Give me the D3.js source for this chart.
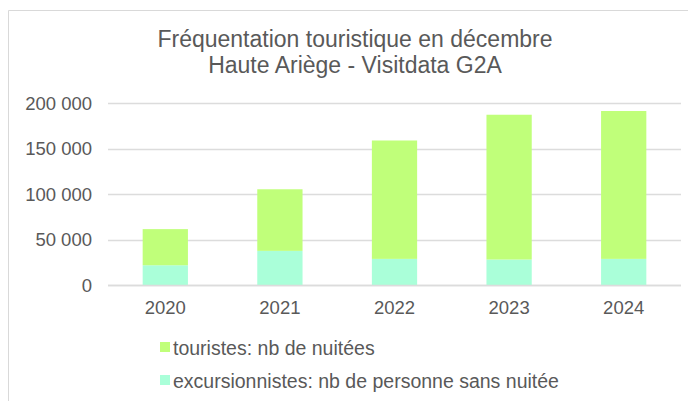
<!DOCTYPE html>
<html>
<head>
<meta charset="utf-8">
<script src="https://cdn.jsdelivr.net/npm/d3@7"></script>
<style>
  body { margin: 0; background: #fff; }
  svg text { font-family: "Liberation Sans", Arial, sans-serif; fill: #595959; }
</style>
</head>
<body>
<div id="chart"></div>
<script>
"use strict";

// data
const years = ["2020", "2021", "2022", "2023", "2024"];
const excursionnistes = [21700, 37500, 28700, 28000, 28700];
const touristes = [39700, 67700, 130100, 159100, 162500];
const yTicks = [0, 50000, 100000, 150000, 200000];
const titleLines = ["Fréquentation touristique en décembre", "Haute Ariège - Visitdata G2A"];
const seriesNames = ["touristes: nb de nuitées", "excursionnistes: nb de personne sans nuitée"];
const seriesColors = ["#c0ff7a", "#aaffd9"];

const w = 688, h = 401;
const margins = { top: 103, right: 7, bottom: 116, left: 108 };
const width = w - margins.left - margins.right;
const height = h - margins.top - margins.bottom;

const svg = d3.select("#chart").append("svg")
  .attr("width", w)
  .attr("height", h);

// frame (only left and top edges show in the picture)
svg.append("path")
  .attr("d", `M8.5,${h} V10.5 H${w}`)
  .attr("fill", "none")
  .attr("stroke", "#d9d9d9")
  .attr("stroke-width", 1);

// title
svg.append("text")
  .attr("text-anchor", "middle")
  .attr("font-size", 23)
  .selectAll("tspan")
  .data(titleLines)
  .enter().append("tspan")
  .attr("x", 355)
  .attr("y", (d, i) => 47 + i * 26)
  .text(d => d);

const rows = years.map((y, i) => ({ year: y, exc: excursionnistes[i], tou: touristes[i] }));
const stack = d3.stack().keys(["exc", "tou"])(rows);

const x = d3.scaleBand()
  .domain(years)
  .range([0, width])
  .paddingInner(0.605)
  .paddingOuter(0.3025);

const y = d3.scaleLinear()
  .domain([0, 200000])
  .range([height, 0]);

const chart = svg.append("g")
  .attr("transform", `translate(${margins.left}, ${margins.top})`);

const fmt = v => d3.format(",")(v).replace(/,/g, " ");

// gridlines
chart.append("g")
  .attr("class", "grid")
  .selectAll("line")
  .data(yTicks)
  .enter().append("line")
  .attr("x1", 0)
  .attr("x2", width)
  .attr("y1", d => Math.round(y(d)) + 0.5)
  .attr("y2", d => Math.round(y(d)) + 0.5)
  .attr("stroke", "#dcdcdc")
  .attr("stroke-width", 1.3);

// y axis labels
const yAxis = d3.axisLeft(y)
  .tickValues(yTicks)
  .tickFormat(fmt)
  .tickSize(0)
  .tickPadding(16);

chart.append("g")
  .attr("class", "y axis")
  .call(yAxis)
  .call(g => g.select(".domain").remove())
  .selectAll("text")
  .attr("font-size", 18.5)
  .attr("dy", "0.35em");

// bars: excursionnistes (bottom) and touristes (top)
const colorOf = { exc: seriesColors[1], tou: seriesColors[0] };
chart.selectAll(".series")
  .data(stack)
  .enter().append("g")
  .attr("class", "series")
  .attr("fill", d => colorOf[d.key])
  .selectAll("rect")
  .data(d => d)
  .enter().append("rect")
  .attr("x", d => x(d.data.year))
  .attr("width", x.bandwidth())
  .attr("y", d => y(d[1]))
  .attr("height", d => y(d[0]) - y(d[1]));

// redraw baseline above the bars
chart.append("line")
  .attr("x1", 0)
  .attr("x2", width)
  .attr("y1", Math.round(y(0)) + 0.5)
  .attr("y2", Math.round(y(0)) + 0.5)
  .attr("stroke", "#dcdcdc")
  .attr("stroke-width", 1.3);

// x axis labels
const xAxis = d3.axisBottom(x).tickSize(0).tickPadding(16);
chart.append("g")
  .attr("class", "x axis")
  .attr("transform", `translate(0, ${height})`)
  .call(xAxis)
  .call(g => g.select(".domain").remove())
  .selectAll("text")
  .attr("font-size", 18.5);

// legend
const legend = svg.append("g")
  .attr("transform", "translate(160, 342)");

const items = legend.selectAll("g")
  .data(seriesNames)
  .enter().append("g")
  .attr("transform", (d, i) => `translate(0, ${i * 33})`);

items.append("rect")
  .attr("width", 10)
  .attr("height", 10)
  .attr("fill", (d, i) => seriesColors[i]);

items.append("text")
  .attr("x", 13)
  .attr("y", 13)
  .attr("font-size", 19.5)
  .text(d => d);
</script>
</body>
</html>
